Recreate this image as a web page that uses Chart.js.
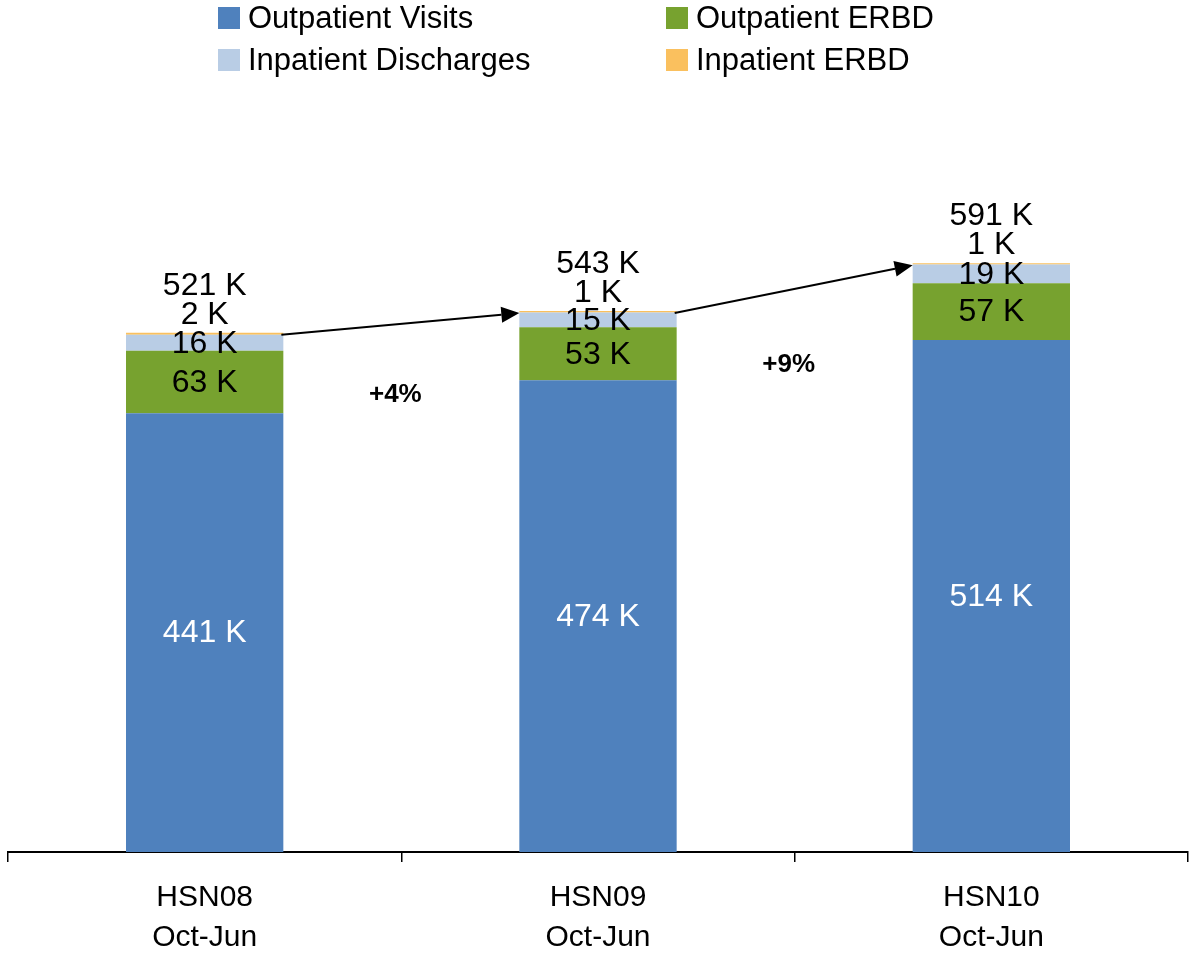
<!DOCTYPE html>
<html>
<head>
<meta charset="utf-8">
<script src="https://cdn.jsdelivr.net/npm/chart.js@4"></script>
<style>
  body { margin: 0; background: #fff; }
  #wrap { position: relative; width: 1191px; height: 954px; }
  #legend {
    position: absolute; left: 218px; top: 0;
    display: grid; grid-template-columns: 448px auto; grid-auto-rows: 42px;
    font-family: "Liberation Sans", Arial, sans-serif; font-size: 31px; color: #000;
  }
  .lg-item { display: flex; align-items: center; height: 36px; }
  .lg-box { width: 22px; height: 22px; margin-right: 8px; }
</style>
</head>
<body>
<div id="wrap">
  <canvas id="c" width="1191" height="954"></canvas>
  <div id="legend"></div>
</div>
<script>
// Chart data (thousands)
var categories = [['HSN08', 'Oct-Jun'], ['HSN09', 'Oct-Jun'], ['HSN10', 'Oct-Jun']];
var outpatientVisits = [440.6, 473.8, 514.2];
var outpatientErbd = [62.8, 53.2, 56.9];
var inpatientDischarges = [16.1, 14.9, 18.8];
var inpatientErbd = [1.9, 1.4, 1.4];
var seriesNames = ['Outpatient Visits', 'Outpatient ERBD', 'Inpatient Discharges', 'Inpatient ERBD'];
var seriesColors = ['#4F81BD', '#77A22F', '#B9CDE5', '#FAC05E'];

var FONT = '"Liberation Sans", Arial, sans-serif';

// legend (2 columns, row-major)
var lg = document.getElementById('legend');
seriesNames.forEach(function(n, i) {
  lg.innerHTML += '<div class="lg-item"><span class="lg-box" style="background:' + seriesColors[i] + '"></span>' + n + '</div>';
});

var totals = outpatientVisits.map(function(v, i) {
  return v + outpatientErbd[i] + inpatientDischarges[i] + inpatientErbd[i];
});

function fmtK(v) { return Math.round(v) + ' K'; }

var labelPlugin = {
  id: 'barLabels',
  afterDatasetsDraw: function(chart) {
    var ctx = chart.ctx;
    ctx.save();
    ctx.textAlign = 'center';
    ctx.textBaseline = 'middle';
    var tops = [];
    chart.data.datasets.forEach(function(ds, di) {
      var meta = chart.getDatasetMeta(di);
      meta.data.forEach(function(bar, i) {
        var p = bar.getProps(['x', 'y', 'base'], true);
        ctx.font = '32px ' + FONT;
        ctx.fillStyle = di === 0 ? '#fff' : '#000';
        if (di < 3) {
          ctx.fillText(fmtK(ds.data[i]), p.x, (p.y + p.base) / 2 + 1);
        } else {
          ctx.fillText(fmtK(ds.data[i]), p.x, p.y - 18);
          ctx.fillText(fmtK(totals[i]), p.x, p.y - 47);
          tops[i] = { x: p.x, y: p.y, w: bar.width };
        }
      });
    });

    // arrows between bar tops
    var blue = chart.getDatasetMeta(0).data;
    ctx.strokeStyle = '#000';
    ctx.fillStyle = '#000';
    ctx.lineWidth = 2;
    for (var i = 0; i < tops.length - 1; i++) {
      var x1 = tops[i].x + tops[i].w / 2 - 2, y1 = tops[i].y + 2;
      var x2 = tops[i + 1].x - tops[i + 1].w / 2, y2 = tops[i + 1].y + 2;
      var ang = Math.atan2(y2 - y1, x2 - x1);
      var hl = 18, hw = 8;
      var bx = x2 - hl * Math.cos(ang), by = y2 - hl * Math.sin(ang);
      ctx.beginPath();
      ctx.moveTo(x1, y1);
      ctx.lineTo(bx, by);
      ctx.stroke();
      ctx.beginPath();
      ctx.moveTo(x2, y2);
      ctx.lineTo(bx + hw * Math.sin(ang), by - hw * Math.cos(ang));
      ctx.lineTo(bx - hw * Math.sin(ang), by + hw * Math.cos(ang));
      ctx.closePath();
      ctx.fill();

      // growth label
      var g = Math.round((totals[i + 1] / totals[i] - 1) * 100);
      var gx = (tops[i].x + tops[i + 1].x) / 2 - 6;
      var gy = (blue[i].y + blue[i + 1].y) / 2 + (i === 0 ? -2 : 5);
      ctx.font = 'bold 26px ' + FONT;
      ctx.fillText('+' + g + '%', gx, gy);
    }
    ctx.restore();
  }
};

var seriesData = [outpatientVisits, outpatientErbd, inpatientDischarges, inpatientErbd];

new Chart(document.getElementById('c'), {
  type: 'bar',
  data: {
    labels: categories,
    datasets: seriesData.map(function(d, i) {
      return {
        label: seriesNames[i],
        data: d,
        backgroundColor: seriesColors[i],
        borderWidth: 0,
        categoryPercentage: 1,
        barPercentage: 0.4
      };
    })
  },
  options: {
    responsive: false,
    animation: false,
    layout: { padding: { top: 152, left: 8, right: 3, bottom: 0 } },
    plugins: { legend: { display: false }, tooltip: { enabled: false } },
    scales: {
      x: {
        stacked: true,
        grid: { drawOnChartArea: false, drawTicks: true, tickLength: 10, color: '#000', lineWidth: 1.5, offset: true },
        border: { display: true, color: '#000', width: 2 },
        ticks: { color: '#000', font: { family: FONT, size: 30, lineHeight: 1.35 }, padding: 15, maxRotation: 0 },
        afterFit: function(s) { s.height = 102; }
      },
      y: {
        stacked: true,
        display: false,
        min: 0,
        max: 703
      }
    }
  },
  plugins: [labelPlugin]
});
</script>
</body>
</html>
